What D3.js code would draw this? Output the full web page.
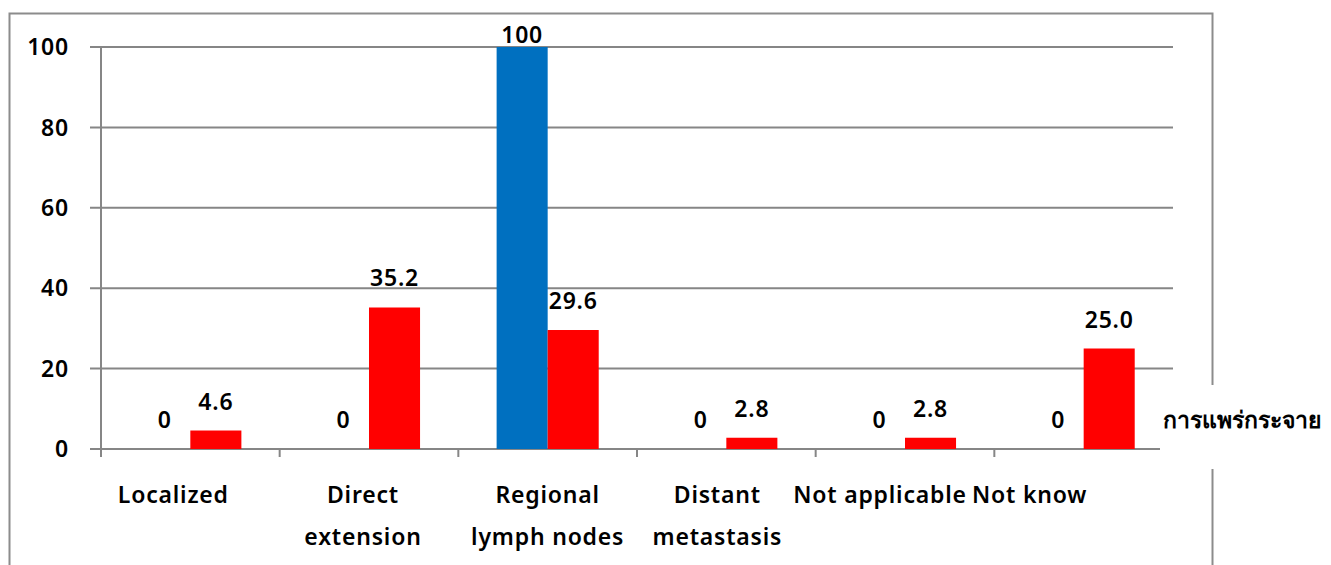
<!DOCTYPE html>
<html>
<head>
<meta charset="utf-8">
<script src="https://cdn.jsdelivr.net/npm/d3@7"></script>
<style>
  body { margin: 0; background: #fff; }
  text { font-family: "Noto Sans", "DejaVu Sans", sans-serif; font-weight: 600; fill: #000; letter-spacing: 0.8px; }
</style>
</head>
<body>
<div id="renderer"></div>
<script>
// Data
const categories = [["Localized"], ["Direct", "extension"], ["Regional", "lymph nodes"], ["Distant", "metastasis"], ["Not applicable"], ["Not know"]];
const seriesA = [0, 0, 100, 0, 0, 0];          // blue
const seriesB = [4.6, 35.2, 29.6, 2.8, 2.8, 25.0]; // red
const yTicks = [0, 20, 40, 60, 80, 100];
const axisTitle = "การแพร่กระจาย";

// layout tweaks for the category labels (Excel shifts them a bit)
const labelShift = [-17, -6, 0, -9, -25, -54];

const width = 1331, height = 565;
const plotLeft = 101, plotRight = 1173, plotTop = 47, plotBottom = 449;
const fontSize = "23px";

const svg = d3.select("#renderer").append("svg")
    .attr("width", width)
    .attr("height", height);

// outer chart border
svg.append("rect")
    .attr("x", 9.5).attr("y", 13.5)
    .attr("width", 1203).attr("height", 600)
    .attr("fill", "none")
    .attr("stroke", "#8c8c8c")
    .attr("stroke-width", 2);

const x = d3.scaleBand()
    .domain(d3.range(categories.length))
    .range([plotLeft, plotRight]);

const y = d3.scaleLinear()
    .domain([0, 100])
    .range([plotBottom, plotTop]);

const barW = x.bandwidth() / 3.5;

// gridlines
svg.selectAll("line.grid")
    .data(yTicks)
    .join("line")
    .attr("class", "grid")
    .attr("x1", plotLeft - 11)
    .attr("x2", plotRight)
    .attr("y1", d => y(d))
    .attr("y2", d => y(d))
    .attr("stroke", "#868686")
    .attr("stroke-width", 2);

// y axis line
svg.append("line")
    .attr("x1", plotLeft).attr("x2", plotLeft)
    .attr("y1", plotTop).attr("y2", plotBottom + 8)
    .attr("stroke", "#868686")
    .attr("stroke-width", 2);

// category tick marks
svg.selectAll("line.xtick")
    .data(d3.range(1, categories.length + 1))
    .join("line")
    .attr("class", "xtick")
    .attr("x1", d => x(d - 1) + x.bandwidth())
    .attr("x2", d => x(d - 1) + x.bandwidth())
    .attr("y1", plotBottom)
    .attr("y2", plotBottom + 8)
    .attr("stroke", "#868686")
    .attr("stroke-width", 2);

// y tick labels
svg.selectAll("text.ytick")
    .data(yTicks)
    .join("text")
    .attr("class", "ytick")
    .attr("x", 69)
    .attr("y", d => y(d))
    .attr("dy", "0.36em")
    .attr("text-anchor", "end")
    .attr("font-size", fontSize)
    .text(d => d);

// bars
const cx = i => x(i) + x.bandwidth() / 2;

svg.selectAll("rect.barA")
    .data(seriesA)
    .join("rect")
    .attr("class", "barA")
    .attr("x", (d, i) => cx(i) - barW)
    .attr("y", d => y(d))
    .attr("width", barW)
    .attr("height", d => y(0) - y(d))
    .attr("fill", "#0070c0");

svg.selectAll("rect.barB")
    .data(seriesB)
    .join("rect")
    .attr("class", "barB")
    .attr("x", (d, i) => cx(i))
    .attr("y", d => y(d))
    .attr("width", barW)
    .attr("height", d => y(0) - y(d))
    .attr("fill", "#ff0000");

// value labels
const labelY = d => Math.max(y(d) - 21, plotTop - 4);

svg.selectAll("text.valA")
    .data(seriesA)
    .join("text")
    .attr("class", "valA")
    .attr("x", (d, i) => cx(i) - barW / 2)
    .attr("y", d => labelY(d))
    .attr("text-anchor", "middle")
    .attr("font-size", fontSize)
    .text(d => d);

svg.selectAll("text.valB")
    .data(seriesB)
    .join("text")
    .attr("class", "valB")
    .attr("x", (d, i) => cx(i) + barW / 2)
    .attr("y", d => labelY(d))
    .attr("text-anchor", "middle")
    .attr("font-size", fontSize)
    .text(d => d.toFixed(1));

// category labels
const catG = svg.selectAll("text.cat")
    .data(categories)
    .join("text")
    .attr("class", "cat")
    .attr("text-anchor", "middle")
    .attr("font-size", fontSize);

catG.selectAll("tspan")
    .data((d, i) => d.map(line => ({ line, i })))
    .join("tspan")
    .attr("x", d => cx(d.i) + labelShift[d.i])
    .attr("y", (d, j) => 503 + j * 42)
    .text(d => d.line);

// axis title on the right, with white background over the border
svg.append("rect")
    .attr("x", 1160).attr("y", 385)
    .attr("width", 171).attr("height", 84)
    .attr("fill", "#fff");

svg.append("text")
    .attr("x", 1163)
    .attr("y", 420)
    .attr("dy", "0.36em")
    .attr("font-size", fontSize)
    .style("letter-spacing", "0px")
    .text(axisTitle);
</script>
</body>
</html>
